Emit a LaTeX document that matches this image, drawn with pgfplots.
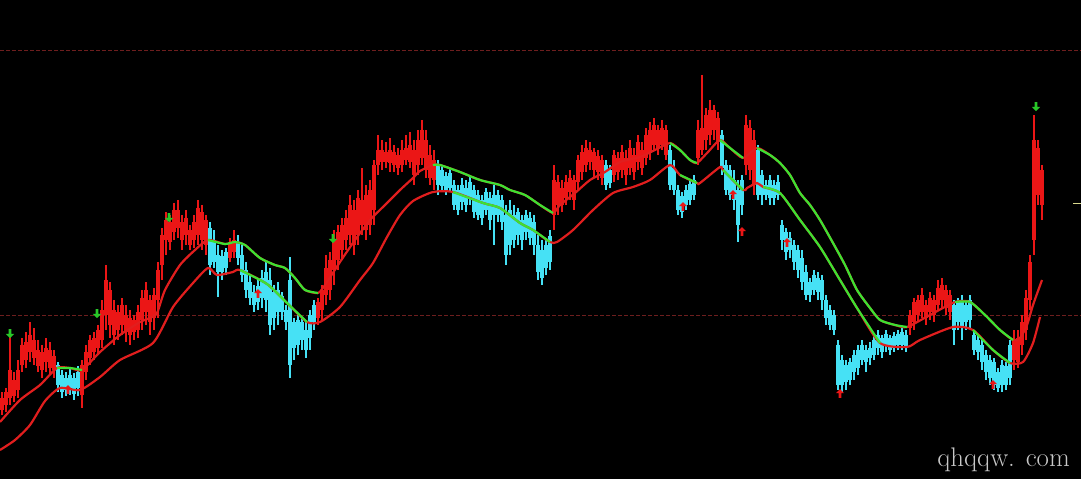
\documentclass[border=0pt]{standalone}
\usepackage{pgfplots}
\usepackage{pgfplotstable}
\pgfplotsset{compat=1.18}
\definecolor{candred}{RGB}{235,22,22}
\definecolor{candcyan}{RGB}{70,225,245}
\definecolor{maGreen}{RGB}{60,225,50}
\definecolor{maRed}{RGB}{225,30,30}
\definecolor{dashred}{RGB}{110,30,30}
\definecolor{arrowgreen}{RGB}{40,200,40}
\definecolor{wmgray}{RGB}{200,200,200}

\pgfdeclareplotmark{dnarrow}{%
 \pgfpathmoveto{\pgfqpoint{-1.4pt}{6pt}}%
 \pgfpathlineto{\pgfqpoint{1.4pt}{6pt}}%
 \pgfpathlineto{\pgfqpoint{1.4pt}{1.2pt}}%
 \pgfpathlineto{\pgfqpoint{4.2pt}{1.2pt}}%
 \pgfpathlineto{\pgfqpoint{0pt}{-3.2pt}}%
 \pgfpathlineto{\pgfqpoint{-4.2pt}{1.2pt}}%
 \pgfpathlineto{\pgfqpoint{-1.4pt}{1.2pt}}%
 \pgfpathclose\pgfusepathqfill}
\pgfdeclareplotmark{uparrow}{%
 \pgfpathmoveto{\pgfqpoint{-1.3pt}{-6pt}}%
 \pgfpathlineto{\pgfqpoint{1.3pt}{-6pt}}%
 \pgfpathlineto{\pgfqpoint{1.3pt}{-1.2pt}}%
 \pgfpathlineto{\pgfqpoint{4pt}{-1.2pt}}%
 \pgfpathlineto{\pgfqpoint{0pt}{3pt}}%
 \pgfpathlineto{\pgfqpoint{-4pt}{-1.2pt}}%
 \pgfpathlineto{\pgfqpoint{-1.3pt}{-1.2pt}}%
 \pgfpathclose\pgfusepathqfill}

% candles: x, top(high), bottom(low), body top, body bottom  (pixel rows, y axis reversed)
\pgfplotstableread{
x t b bt bb
2 392 415 398 410
6 388 412 392 405
10 337 405 370 398
14 372 402 380 396
18 360 398 370 390
22 338 372 345 365
26 332 368 342 360
30 322 362 335 352
34 328 365 340 358
38 340 372 350 366
42 345 378 352 370
46 338 372 348 362
50 342 375 350 368
54 350 378 356 370
82 360 408 365 395
86 345 380 352 372
90 335 365 340 358
94 332 360 338 352
98 325 355 330 348
102 300 348 310 340
106 265 330 280 315
110 282 338 290 325
114 300 345 310 335
118 305 340 312 330
122 298 335 305 325
126 305 342 315 332
130 310 345 318 335
134 315 340 320 332
138 305 338 312 330
142 290 330 298 320
146 282 325 290 312
150 295 335 300 322
154 288 330 295 318
158 262 318 270 300
162 228 280 235 265
166 212 255 220 240
170 215 250 222 242
174 203 240 210 232
178 200 238 210 228
182 215 250 222 240
186 210 245 218 235
190 225 250 230 245
194 215 248 222 240
198 200 245 208 235
202 205 250 212 240
206 215 255 220 245
230 238 262 244 258
234 230 258 240 252
318 298 325 302 318
322 285 320 290 310
326 255 305 268 295
330 252 300 260 290
334 230 285 240 270
338 225 270 232 260
342 218 258 225 250
346 210 250 218 240
350 195 245 205 235
354 200 255 210 245
358 190 245 198 235
362 168 235 200 225
366 185 240 195 230
370 180 235 190 225
374 160 225 165 210
378 135 175 150 165
382 140 170 150 162
386 142 168 152 162
390 138 172 150 163
394 145 172 152 165
398 148 175 155 168
402 140 172 150 165
406 135 165 148 160
410 132 168 145 162
414 140 185 150 175
418 130 175 140 165
422 120 165 130 158
426 130 178 140 170
430 145 185 155 178
434 150 190 160 180
554 165 230 180 215
558 175 215 182 205
562 180 212 188 205
566 175 205 182 198
570 170 200 178 192
574 175 210 180 200
578 155 190 160 182
582 145 180 152 172
586 140 172 148 165
590 142 170 150 162
594 148 178 152 170
598 150 180 156 172
602 155 185 160 178
614 150 182 155 175
618 152 180 158 172
622 145 178 152 170
626 150 185 158 175
630 140 175 148 168
634 148 180 155 172
638 135 170 142 162
642 142 175 150 168
646 128 165 135 158
650 122 160 130 152
654 118 150 125 145
658 125 155 130 148
662 120 150 128 145
666 125 160 130 155
698 120 165 130 158
702 75 155 128 150
706 108 150 115 140
710 100 145 110 135
714 105 140 110 130
718 112 150 118 142
746 115 175 125 165
750 120 180 128 170
754 130 195 140 185
910 310 335 315 328
914 298 330 302 322
918 295 322 300 315
922 288 318 295 312
926 300 325 305 318
930 292 320 298 312
934 295 322 300 315
938 280 310 288 305
942 278 308 285 300
946 285 315 290 308
950 290 320 295 312
1014 330 370 340 360
1018 330 368 338 362
1022 315 355 322 345
1026 290 340 298 330
1030 255 310 262 300
1034 115 255 140 240
1038 140 205 148 195
1042 165 220 170 205
}\redcandles

\pgfplotstableread{
x t b bt bb
58 362 392 365 385
62 370 398 375 392
66 372 396 378 390
70 368 395 375 388
74 373 400 378 394
78 366 396 372 388
210 222 275 228 265
214 230 268 240 262
218 245 297 255 272
222 250 280 256 272
226 248 275 252 268
238 235 265 242 258
242 245 282 255 275
246 262 298 270 290
250 275 305 282 298
254 285 312 292 305
258 280 310 286 302
262 270 308 278 298
266 262 312 272 300
270 268 335 280 325
274 285 330 292 318
278 282 325 290 312
282 292 320 296 312
286 305 330 310 322
290 257 378 280 365
294 318 360 322 348
298 315 355 320 345
302 318 350 322 340
306 322 358 330 350
310 310 350 315 338
314 300 330 305 322
438 160 195 165 185
442 165 190 170 186
446 172 195 176 190
450 168 192 173 188
454 180 210 185 205
458 185 215 190 210
462 178 210 185 202
466 180 212 188 205
470 175 205 182 198
474 185 218 190 212
478 190 220 195 215
482 195 225 200 218
486 188 215 192 210
490 192 230 198 220
494 185 245 195 215
498 190 222 195 215
502 195 230 200 222
506 205 265 215 255
510 200 255 210 245
514 205 248 215 240
518 208 245 212 235
522 215 250 220 240
526 210 240 215 232
530 212 245 218 238
534 215 255 222 245
538 235 280 245 272
542 240 285 250 278
546 238 275 245 268
550 230 270 236 262
606 160 190 165 185
610 165 188 170 183
670 145 190 150 185
674 160 195 168 190
678 185 215 190 210
682 192 218 196 212
686 185 210 190 205
690 180 205 184 200
694 175 200 180 195
722 130 175 135 168
726 160 195 165 190
730 165 200 170 195
734 170 210 180 200
738 180 242 190 225
742 175 215 180 205
758 145 200 150 195
762 170 205 175 195
766 180 200 185 195
770 175 205 180 198
774 180 205 185 198
778 175 200 182 195
782 220 250 225 240
786 228 260 232 252
790 232 258 238 250
794 240 270 245 262
798 245 278 250 270
802 250 290 258 282
806 265 300 272 295
810 278 302 282 295
814 270 295 275 290
818 272 300 278 292
822 275 310 280 300
826 295 325 300 318
830 305 330 310 325
834 310 335 315 330
838 340 390 345 385
842 355 392 360 385
846 360 390 365 382
850 358 385 362 380
854 350 380 355 372
858 345 375 350 368
862 340 365 345 360
866 345 372 350 362
870 342 365 348 358
874 335 360 340 355
878 330 355 335 348
882 335 358 338 352
886 330 352 334 345
890 335 355 338 350
894 332 352 336 348
898 330 350 334 345
902 328 350 332 345
906 330 352 335 346
954 300 345 305 330
958 298 330 302 322
962 295 340 300 328
966 300 330 305 322
970 295 328 300 320
974 330 355 335 350
978 335 360 340 352
982 340 370 345 362
986 350 380 355 372
990 355 385 360 378
994 358 390 362 385
998 368 392 372 388
1002 360 392 365 385
1006 362 390 366 385
1010 340 385 345 378
}\cyancandles

\newcommand{\candles}[2]{%
 \addplot[draw=none, mark=none, forget plot, error bars/.cd, y dir=plus, y explicit, error mark=none, error bar style={draw=#2, line width=1.1bp}] table[x=x, y=t, y error plus expr=\thisrow{b}-\thisrow{t}] {#1};
 \addplot[draw=none, mark=none, forget plot, error bars/.cd, y dir=plus, y explicit, error mark=none, error bar style={draw=#2, line width=3.3bp}] table[x=x, y=bt, y error plus expr=\thisrow{bb}-\thisrow{bt}] {#1};
}

\begin{document}
\begin{tikzpicture}
\begin{axis}[
  scale only axis, width=1081bp, height=479bp,
  xmin=0, xmax=1081, ymin=0, ymax=479, y dir=reverse,
  ticks=none, axis line style={draw=none},
  axis background/.style={fill=black},
  clip=true,
]
% dashed reference lines
\addplot[dashred, line width=0.9bp, dash pattern=on 4bp off 2bp] coordinates {(0,50) (1081,50)};
\addplot[dashred, line width=0.9bp, dash pattern=on 4bp off 2bp] coordinates {(0,315) (1081,315)};
% right edge tick
\addplot[wmgray!70!yellow, line width=1bp] coordinates {(1073,203) (1081,203)};

\candles{\redcandles}{candred}
\candles{\cyancandles}{candcyan}

% upper band (red), with green segments
\addplot[maRed, line width=2.2bp, smooth, tension=0.4] coordinates {
(0,422) (20,400) (40,385) (57,368) (70,368) (82,370) (100,352) (120,335) (140,322) (150,318) (157,313) (165,290) (180,265) (195,250) (208,240) (225,244) (235,242) (245,245) (260,258) (275,265) (285,268) (295,278) (305,290) (318,293) (325,285) (340,262) (355,240) (370,220) (385,205) (400,190) (413,178) (420,171) (433,165) (440,165) (460,172) (480,180) (500,185) (510,190) (525,195) (540,205) (553,213) (560,205) (575,193) (590,180) (605,172) (620,162) (640,157) (655,150) (670,143) (680,150) (690,160) (697,163) (708,152) (720,140) (730,148) (743,158) (757,148) (770,155) (780,163) (790,175) (800,193) (810,205) (820,220) (833,243) (845,265) (857,290) (870,308) (880,320) (895,325) (907,327) (930,315) (955,302) (970,302) (985,315) (1000,330) (1013,340) (1020,338) (1027,325) (1033,305) (1042,280)};
\addplot[maGreen, line width=2.2bp, smooth, tension=0.4] coordinates {(57,368) (70,368) (82,370)};
\addplot[maGreen, line width=2.2bp, smooth, tension=0.4] coordinates {(208,240) (225,244) (235,242) (245,245) (260,258) (275,265) (285,268) (295,278) (305,290) (318,293)};
\addplot[maGreen, line width=2.2bp, smooth, tension=0.4] coordinates {(433,165) (440,165) (460,172) (480,180) (500,185) (510,190) (525,195) (540,205) (553,213)};
\addplot[maGreen, line width=2.2bp, smooth, tension=0.4] coordinates {(670,143) (680,150) (690,160) (697,163)};
\addplot[maGreen, line width=2.2bp, smooth, tension=0.4] coordinates {(720,140) (730,148) (743,158)};
\addplot[maGreen, line width=2.2bp, smooth, tension=0.4] coordinates {(757,148) (770,155) (780,163) (790,175) (800,193) (810,205) (820,220) (833,243) (845,265) (857,290) (870,308) (880,320) (895,325) (907,327)};
\addplot[maGreen, line width=2.2bp, smooth, tension=0.4] coordinates {(955,302) (970,302) (985,315) (1000,330) (1013,340)};

% lower band (red), with green segments
\addplot[maRed, line width=2.2bp, smooth, tension=0.4] coordinates {
(0,450) (15,440) (30,425) (45,401) (60,388) (80,390) (100,377) (120,360) (153,343) (173,307) (193,283) (208,268) (217,275) (233,272) (240,270) (267,284) (287,303) (307,322) (320,322) (340,307) (360,280) (373,263) (387,237) (400,215) (413,201) (433,192) (453,192) (483,203) (500,208) (520,223) (533,230) (550,242) (557,242) (573,230) (593,210) (613,193) (633,187) (650,180) (670,165) (680,175) (697,183) (700,183) (720,167) (723,170) (743,190) (747,188) (757,183) (763,187) (780,193) (800,220) (820,247) (840,280) (857,308) (880,343) (907,347) (920,340) (953,327) (973,330) (993,350) (1010,363) (1023,362) (1033,343) (1040,317)};
\addplot[maGreen, line width=2.2bp, smooth, tension=0.4] coordinates {(240,270) (267,284) (287,303) (307,322)};
\addplot[maGreen, line width=2.2bp, smooth, tension=0.4] coordinates {(453,192) (483,203) (500,208) (520,223) (533,230) (550,242)};
\addplot[maGreen, line width=2.2bp, smooth, tension=0.4] coordinates {(680,175) (697,183)};
\addplot[maGreen, line width=2.2bp, smooth, tension=0.4] coordinates {(723,170) (743,190)};
\addplot[maGreen, line width=2.2bp, smooth, tension=0.4] coordinates {(763,187) (780,193) (800,220) (820,247) (840,280) (857,308) (880,343)};
\addplot[maGreen, line width=2.2bp, smooth, tension=0.4] coordinates {(973,330) (993,350) (1010,363)};

% signal arrows
\addplot[only marks, mark=dnarrow, arrowgreen] coordinates {(10,335) (97,315) (169,219) (333,240) (1036,108)};
\addplot[only marks, mark=uparrow, candred] coordinates {(68,388) (258,292) (683,205) (733,193) (742,230) (787,241) (840,392) (993,383)};

\node[anchor=base east, text=wmgray, font=\fontsize{27}{27}\selectfont, inner sep=0pt] at (axis cs:1070,466) {qhqqw. com};
\end{axis}
\end{tikzpicture}
\end{document}
